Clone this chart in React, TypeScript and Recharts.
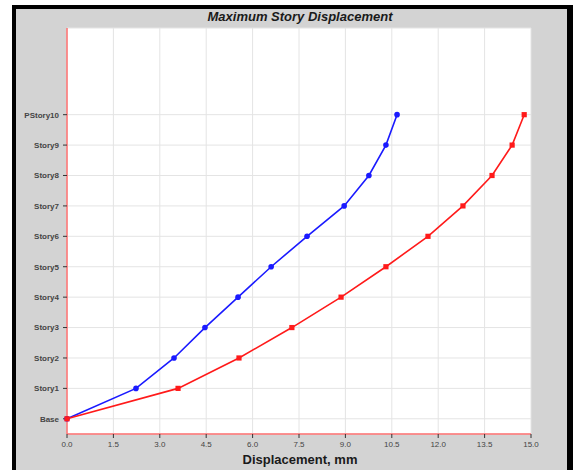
import React from 'react';
import { ScatterChart, Scatter, XAxis, YAxis, CartesianGrid } from 'recharts';

const storyLabels = ['Base', 'Story1', 'Story2', 'Story3', 'Story4', 'Story5', 'Story6', 'Story7', 'Story8', 'Story9', 'PStory10'];
const storyLevels = [0, 1, 2, 3, 4, 5, 6, 7, 8, 9, 10];
const blueDisp = [0, 2.23, 3.46, 4.46, 5.53, 6.6, 7.76, 8.96, 9.76, 10.31, 10.67];
const redDisp = [0, 3.59, 5.56, 7.27, 8.86, 10.31, 11.67, 12.8, 13.74, 14.39, 14.78];
const xTicks = [0, 1.5, 3, 4.5, 6, 7.5, 9, 10.5, 12, 13.5, 15];

const blueData = storyLevels.map((lvl, i) => ({ x: blueDisp[i], y: lvl }));
const redData = storyLevels.map((lvl, i) => ({ x: redDisp[i], y: lvl }));

const BLUE = '#1a1aff';
const RED = '#ff1a1a';

const Dot = (props: any) => <circle cx={props.cx} cy={props.cy} r={2.8} fill={BLUE} />;
const Sq = (props: any) => (
  <rect x={props.cx - 2.6} y={props.cy - 2.6} width={5.2} height={5.2} fill={RED} />
);

const App: React.FC = () => {
  return (
    <div style={{ position: 'fixed', left: 0, top: 0, width: 573, height: 470, background: '#fff', overflow: 'hidden', fontFamily: 'Arial, "Liberation Sans", sans-serif' }}>
      {/* grey frame */}
      <div style={{ position: 'absolute', left: 12, top: 5, width: 551, height: 480, background: '#d3d3d3', borderLeft: '4px solid #000', borderTop: '4px solid #000', borderRight: '6px solid #000' }} />
      <div style={{ position: 'absolute', left: 0, top: 9, width: 600, textAlign: 'center', fontSize: 13, fontWeight: 'bold', fontStyle: 'italic', color: '#1a1a1a' }}>
        Maximum Story Displacement
      </div>
      <div style={{ position: 'absolute', left: 0, top: 452, width: 600, textAlign: 'center', fontSize: 13, fontWeight: 'bold', color: '#1a1a1a' }}>
        Displacement, mm
      </div>
      <div style={{ position: 'absolute', left: 0, top: 0 }}>
        <ScatterChart width={573} height={470} margin={{ top: 28, right: 42, bottom: 6, left: 12 }}>
          <CartesianGrid fill="#ffffff" stroke="#e4e4e4" strokeWidth={1} />
          <XAxis
            type="number"
            dataKey="x"
            domain={[0, 15]}
            ticks={xTicks}
            interval={0}
            height={30}
            tickFormatter={(v: number) => v.toFixed(1)}
            tick={{ fill: '#444', fontSize: 8 }}
            tickSize={4}
            tickMargin={3}
            tickLine={{ stroke: '#333' }}
            axisLine={{ stroke: '#ff7070', strokeWidth: 1.5 }}
          />
          <YAxis
            type="number"
            dataKey="y"
            domain={[-0.5, 12.85]}
            ticks={storyLevels}
            interval={0}
            width={55}
            tickFormatter={(v: number) => storyLabels[v] ?? ''}
            tick={{ fill: '#444', fontSize: 8, fontWeight: 'bold' }}
            tickSize={4}
            tickMargin={4}
            tickLine={{ stroke: '#333' }}
            axisLine={{ stroke: '#ff7070', strokeWidth: 1.5 }}
          />
          <Scatter
            data={blueData}
            line={{ stroke: BLUE, strokeWidth: 1.6 }}
            lineType="joint"
            shape={Dot}
            isAnimationActive={false}
          />
          <Scatter
            data={redData}
            line={{ stroke: RED, strokeWidth: 1.6 }}
            lineType="joint"
            shape={Sq}
            isAnimationActive={false}
          />
        </ScatterChart>
      </div>
    </div>
  );
};

export default App;
